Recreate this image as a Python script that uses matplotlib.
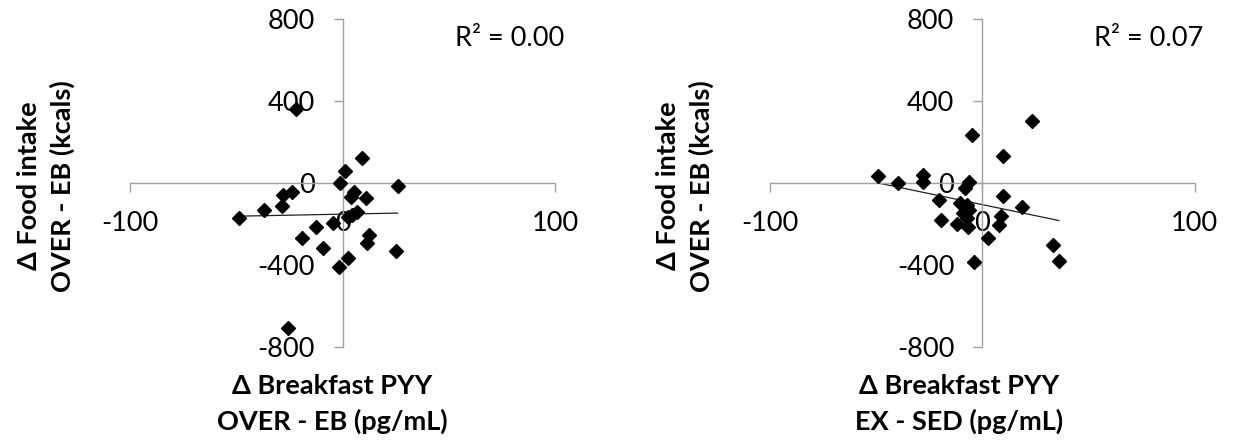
import numpy as np
import matplotlib
matplotlib.use("Agg")
import matplotlib.pyplot as plt

plt.rcParams['font.family'] = ['Lato', 'DejaVu Sans']

# Left panel: delta breakfast PYY (OVER - EB) vs delta food intake (OVER - EB)
left_x = [-22.0, 9.4, 1.1, -1.1, 25.9, 5.5, 4.0, 11.0, -23.6, -27.8, -28.3, -36.9, -48.7,
          6.9, 4.6, 2.7, -4.7, -12.5, -18.9, -9.4, 12.3, 11.5, 25.2, 2.8, -1.6, -25.5]
left_y = [361, 123, 59, 1, -13, -42, -67, -75, -42, -59, -111, -132, -169,
          -141, -154, -166, -197, -213, -270, -319, -254, -291, -330, -364, -408, -706]

# Right panel: delta breakfast PYY (EX - SED) vs delta food intake (OVER - EB)
right_x = [-49.1, -39.6, -27.8, -27.8, -4.9, 23.4, 10.0, -6.1, -7.8, -20.3, -10.4, -7.2, -6.0,
           9.8, 19.0, -19.1, -11.7, -6.5, -7.2, 9.0, 8.2, 3.0, 33.3, 36.2, -3.6, -9.0]
right_y = [36, 0, 40, 5, 236, 300, 130, 6, -23, -81, -98, -109, -134,
           -65, -117, -182, -202, -215, -169, -161, -207, -268, -304, -382, -385, -145]

r2_labels = ["R\u00b2 = 0.00", "R\u00b2 = 0.07"]
xlabels = ["\u0394 Breakfast PYY\nOVER - EB (pg/mL)", "\u0394 Breakfast PYY\nEX - SED (pg/mL)"]
ylabel = "\u0394 Food intake\nOVER - EB (kcals)"
xticks = [-100, 0, 100]
yticks = [-800, -400, 0, 400, 800]

W, H = 1233, 440
fig = plt.figure(figsize=(W / 100, H / 100), dpi=100)

# (x values, y values, axes left px, R2 text, x label, x label centre px)
panels = [
    (left_x, left_y, 130, r2_labels[0], xlabels[0], 332),
    (right_x, right_y, 769.5, r2_labels[1], xlabels[1], 959),
]

axis_color = '#a0a0a0'
for xs, ys, left_px, r2, xl, xl_cx in panels:
    ax = fig.add_axes([left_px / W, 1 - 347 / H, 425 / W, 328 / H])
    ax.set_xlim(-100, 100)
    ax.set_ylim(-800, 800)
    for s in ['top', 'right']:
        ax.spines[s].set_visible(False)
    for s in ['left', 'bottom']:
        ax.spines[s].set_position(('data', 0))
        ax.spines[s].set_color(axis_color)
        ax.spines[s].set_linewidth(1.0)
    ax.set_xticks(xticks)
    ax.set_yticks(yticks)
    ax.set_xticklabels([str(v) for v in xticks])
    ax.set_yticklabels([str(v) for v in yticks])
    ax.tick_params(direction='out', length=6.5, width=1.0, color=axis_color,
                   labelsize=19.5, pad=13.5, labelcolor='black')
    ax.patch.set_alpha(0)

    xa = np.array(xs, dtype=float)
    ya = np.array(ys, dtype=float)
    ax.plot(xa, ya, linestyle='none', marker='D', markersize=6.8,
            color='black', zorder=3, clip_on=False)
    m, b = np.polyfit(xa, ya, 1)
    xx = np.array([xa.min(), xa.max()])
    ax.plot(xx, m * xx + b, color='#202020', linewidth=0.9, zorder=2)

    cx = left_px + 212.5
    fig.text((cx + 167) / W, 1 - 38 / H, r2, fontsize=19.5, ha='center', va='center')
    l1, l2 = xl.split('\n')
    fig.text(xl_cx / W, 1 - 386 / H, l1, fontsize=19.5, fontweight='bold', ha='center', va='center')
    fig.text(xl_cx / W, 1 - 421 / H, l2, fontsize=19.5, fontweight='bold', ha='center', va='center')
    y1, y2 = ylabel.split('\n')
    fig.text((left_px - 101) / W, 1 - 186 / H, y1, fontsize=19.5, fontweight='bold',
             rotation=90, ha='center', va='center')
    fig.text((left_px - 68) / W, 1 - 186 / H, y2, fontsize=19.5, fontweight='bold',
             rotation=90, ha='center', va='center')

fig.savefig("out.png", dpi=100)
